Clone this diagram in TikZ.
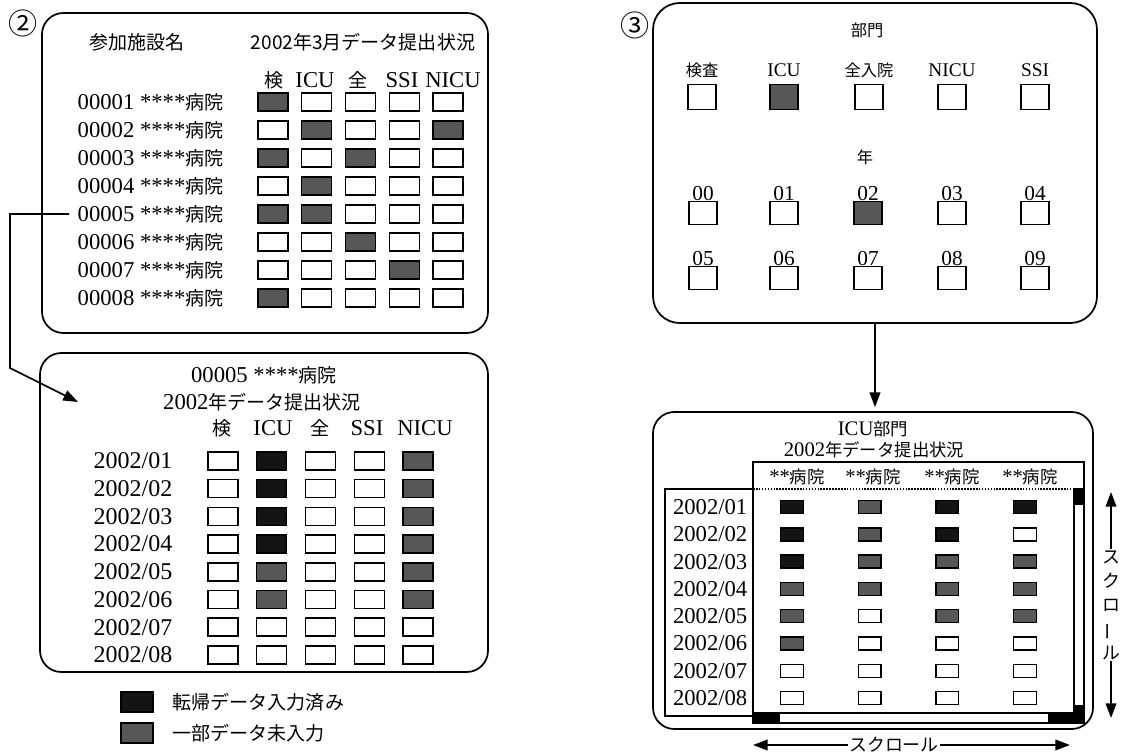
\documentclass[tikz,border=0pt]{standalone}
\usepackage{fontspec}
\setmainfont{Liberation Serif}
\newfontfamily\jpfont[Scale=0.84]{Noto Sans CJK JP}
\newcommand{\jp}[1]{{\jpfont #1}}
\usetikzlibrary{arrows.meta,fit,positioning}
\colorlet{cE}{white}
\colorlet{cP}{black!66}
\colorlet{cD}{black!92}
\tikzset{
    panel/.style={draw, line width=1.3pt, rounded corners=16pt, inner sep=0pt},
    cell/.style={draw, line width=1.1pt, minimum width=22.5pt, minimum height=13.5pt, inner sep=0pt},
    mini/.style={draw, line width=1.1pt, minimum width=17pt, minimum height=9.75pt, inner sep=0pt},
    pick/.style={draw, line width=1.1pt, minimum width=21pt, minimum height=18.5pt, inner sep=0pt},
    yearbox/.style={draw, line width=1.1pt, minimum width=21pt, minimum height=17pt, inner sep=0pt},
    frame/.style={draw, line width=1.2pt, inner sep=0pt},
    link/.style={line width=1.2pt, -{Triangle[length=11pt,width=8pt]}}
}
\begin{document}
\begin{tikzpicture}[x=0.75pt, y=-0.75pt, font=\fontsize{17}{20}\selectfont]
\useasboundingbox (0,0) rectangle (1127,756);

% panel 2: all hospitals, one month
\node[panel, fit={(42,13) (488,333)}] (pA) {};
\node (numA) at (23,23) {\fontsize{26}{26}\jpfont ②};
\node (hdA1) at (137,42) {\jp{参加施設名}};
\node (hdA2) at (363,42) {\jp{2002年3月データ提出状況}};
\foreach \t/\x [count=\c] in {\jp{検}/274, ICU/315, \jp{全}/358, SSI/402, NICU/453}
    \node (hA\c) at (\x,80) {\t};
\foreach \r/\lst in {1/{P,E,E,E,E}, 2/{E,P,E,E,P}, 3/{P,E,P,E,E}, 4/{E,P,E,E,E},
                     5/{P,P,E,E,E}, 6/{E,E,P,E,E}, 7/{E,E,E,P,E}, 8/{P,E,E,E,E}} {
    \node[anchor=west] (lA\r) at (73,{102+28*(\r-1)}) {0000\r\ ****\jp{病院}};
    \foreach \s [count=\c] in \lst
        \node[cell, fill=c\s] (A\r\c) at ({273+43.75*(\c-1)},{102+28*(\r-1)}) {};
}
\coordinate (bendA) at (10,368);
\coordinate (tipA) at (78,402);
\draw[link] ([xshift=-3pt]lA5.west) -| (bendA) -- (tipA);

% panel 2: one hospital, by month
\node[panel, fit={(40,353) (488,672)}] (pB) {};
\node (tlB1) at (264,375) {00005 ****\jp{病院}};
\node (tlB2) at (262,402) {2002\jp{年データ提出状況}};
\foreach \t/\x [count=\c] in {\jp{検}/222, ICU/273, \jp{全}/320, SSI/367, NICU/425}
    \node (hB\c) at (\x,428) {\t};
\foreach \r/\lst in {1/{E,D,E,E,P}, 2/{E,D,E,E,P}, 3/{E,D,E,E,P}, 4/{E,D,E,E,P},
                     5/{E,P,E,E,P}, 6/{E,P,E,E,P}, 7/{E,E,E,E,E}, 8/{E,E,E,E,E}} {
    \node[font=\fontsize{18}{20}\selectfont] (lB\r) at (133,{461+27.7*(\r-1)}) {2002/0\r};
    \foreach \s [count=\c] in \lst
        \node[cell, fill=c\s] (B\r\c) at ({223+48.75*(\c-1)},{461+27.7*(\r-1)}) {};
}

% legend
\node[cell, minimum width=24pt, minimum height=15pt, fill=cD] (kD) at (137,702) {};
\node[cell, minimum width=24pt, minimum height=15pt, fill=cP] (kP) at (137,733) {};
\node[anchor=west] (kDt) at (168,702) {\jp{転帰データ入力済み}};
\node[anchor=west] (kPt) at (168,733) {\jp{一部データ未入力}};

% panel 3: selection
\node[panel, rounded corners=20pt, fit={(653,3) (1097,323)}] (pC) {};
\node (numC) at (635,25) {\fontsize{26}{26}\jpfont ③};
\begin{scope}[font=\fontsize{14.5}{17}\selectfont]
\node (hdC1) at (867,30) {\jp{部門}};
\foreach \t/\x/\s [count=\c] in {\jp{検査}/702/E, ICU/784/P, \jp{全入院}/869/E, NICU/952/E, SSI/1035/E} {
    \node (dC\c) at (\x,70) {\t};
    \node[pick, fill=c\s] (kC\c) at (\x,97) {};
}
\node (hdC2) at (865,157) {\jp{年}};
\foreach \n/\x/\yy/\s in {00/703/213/E, 01/784/213/E, 02/868/213/P, 03/952/213/E, 04/1035/213/E,
                          05/703/278/E, 06/784/278/E, 07/868/278/E, 08/952/278/E, 09/1035/278/E} {
    \node[yearbox, fill=c\s] (yC\n) at (\x,\yy) {};
    \node[anchor=base, inner sep=0pt, font=\fontsize{16}{16}\selectfont] (ytC\n) at ([yshift=0.5pt]yC\n.north) {\n};
}
\end{scope}

% panel 3: one department, all hospitals
\node[panel, fit={(653,412) (1093,729)}] (pD) {};
\draw[link, shorten >=3pt] (pC.south) -- (pC.south |- pD.north);
\begin{scope}[font=\fontsize{15.5}{18}\selectfont]
\node[inner sep=0.5pt] (tlD1) at (873,429) {ICU\jp{部門}};
\node[inner sep=0.5pt] (tlD2) at (874,450) {2002\jp{年データ提出状況}};
\foreach \x [count=\c] in {797,873,952,1030}
    \node (hD\c) at (\x,477) {**\jp{病院}};
\end{scope}
\node[frame, fit={(753,462) (1084,723)}] (grD) {};
\node[frame, fit={(665,489) (753,716)}] (rlD) {};
\draw[densely dotted, line width=1.2pt] (753,489) -- (1084,489);
\draw[line width=1pt] (1074,489) rectangle (1084,723);
\fill (1074,489) rectangle (1084,505);
\fill (1074,705) rectangle (1084,723);
\draw[line width=1pt] (753,713) rectangle (1074,723);
\fill (753,713) rectangle (780,723);
\fill (1048,713) rectangle (1074,723);
\foreach \r/\lst in {1/{D,P,D,D}, 2/{D,P,D,E}, 3/{D,P,P,P}, 4/{P,P,P,P},
                     5/{P,E,P,P}, 6/{P,E,E,E}, 7/{E,E,E,E}, 8/{E,E,E,E}} {
    \node[anchor=east, font=\fontsize{17}{20}\selectfont] (lD\r) at (752,{507+27.3*(\r-1)}) {2002/0\r};
    \foreach \s [count=\c] in \lst
        \node[mini, fill=c\s] (D\r\c) at ({792+77.67*(\c-1)},{507+27.3*(\r-1)}) {};
}

% scroll arrows
\node[font=\fontsize{16}{18}\jpfont, align=center, inner sep=1pt] (vscr) at (1111,605)
    {ス\\ク\\ロ\\\rotatebox[origin=c]{90}{ー}\\ル};
\coordinate (vtop) at (1111,492);
\coordinate (vbot) at (1111,718);
\draw[link] (vscr.north) -- (vtop);
\draw[link] (vscr.south) -- (vbot);
\node[font=\fontsize{16}{18}\jpfont, inner sep=1pt] (hscr) at (894,745) {スクロール};
\coordinate (hlft) at (753,745);
\coordinate (hrgt) at (1070,745);
\draw[link] (hscr.west) -- (hlft);
\draw[link] (hscr.east) -- (hrgt);
\end{tikzpicture}
\end{document}
